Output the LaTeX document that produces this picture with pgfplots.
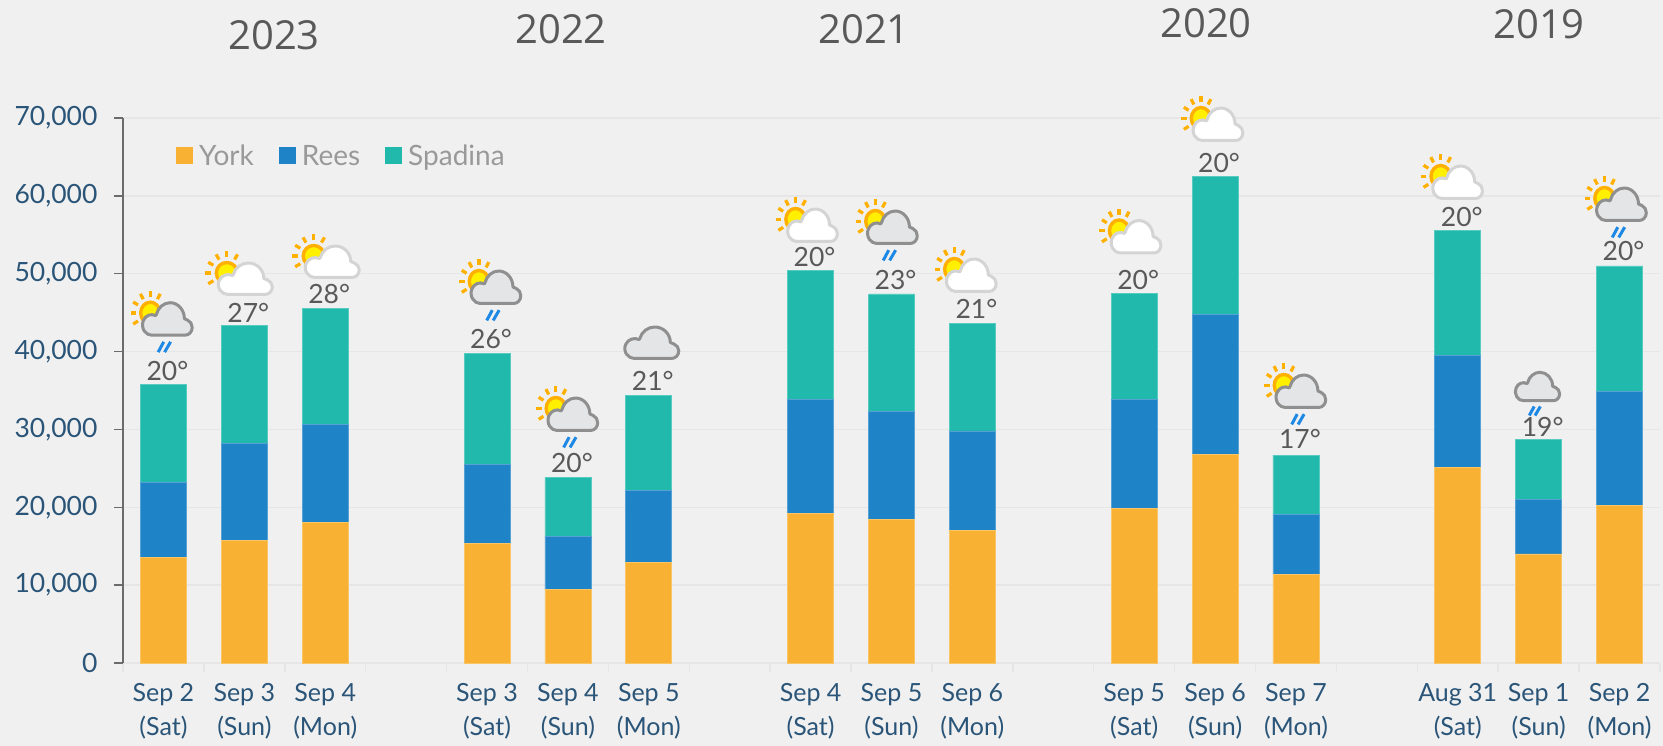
\documentclass[border=0pt]{standalone}
\usepackage{pgfplots}
\usepackage{pgfplotstable}
\pgfplotsset{compat=1.18}
\usepackage{fontspec}
\setmainfont{Lato}
\newfontfamily\yearfont{Open Sans}
\definecolor{bg}{HTML}{F0F0F0}
\definecolor{york}{HTML}{F8B133}
\definecolor{rees}{HTML}{1F83C7}
\definecolor{spadina}{HTML}{20B9AB}
\definecolor{ticktext}{HTML}{2A5578}
\definecolor{gridc}{HTML}{E6E6E6}
\definecolor{labc}{HTML}{595959}
\definecolor{sunring}{HTML}{FFB000}
\definecolor{sunfill}{HTML}{FFF000}
\definecolor{cloudw}{HTML}{D4D4D4}
\definecolor{cloudg}{HTML}{8F8F8F}
\definecolor{cloudgf}{HTML}{E4E5E7}
\definecolor{rainc}{HTML}{1E88E5}
\pgfplotstableread{
x    York  Rees  Spadina
0.5  13600 9600  12600
1.5  15700 12500 15200
2.5  18100 12500 14900
4.5  15400 10100 14300
5.5  9500  6700  7600
6.5  12900 9300  12200
8.5  19200 14700 16500
9.5  18400 13900 15100
10.5 17000 12800 13800
12.5 19900 13900 13700
13.5 26800 18000 17700
14.5 11400 7700  7600
16.5 25100 14400 16000
17.5 14000 7000  7700
18.5 20200 14700 16100
}\gatedata
\tikzset{
 wide/.style={x=1pt,y=1pt},
 narrow/.style={x=0.92pt,y=1.03pt},
 small/.style={x=0.82pt,y=0.9pt},
 sun/.pic={
  \foreach \a in {90,60,120,150,180,210}{\draw[line width=3.2pt,draw=sunring] (-17.5,23)++(\a:15.5) -- ++(\a:6);}
  \draw[line width=3.4pt,draw=sunring,fill=sunfill] (-7,23) arc[start angle=0,end angle=360,radius=10.5] -- cycle;
 },
 cw/.pic={
  \draw[line width=3pt,draw=cloudw,fill=white,line join=round]
   (-16,1.5) -- (20.5,1.5) arc[start angle=-90,end angle=70,radius=7.5] -- (19.5,17.5) arc[start angle=0,end angle=165,radius=15.5] -- (-11.8,20.5) arc[start angle=65,end angle=270,radius=10] -- cycle;
 },
 cg/.pic={
  \draw[line width=3pt,draw=cloudg,fill=cloudgf,line join=round]
   (-16,1.5) -- (20.5,1.5) arc[start angle=-90,end angle=70,radius=7.5] -- (19.5,17.5) arc[start angle=0,end angle=165,radius=15.5] -- (-11.8,20.5) arc[start angle=65,end angle=270,radius=10] -- cycle;
 },
 rain/.pic={
  \draw[line width=3pt,draw=rainc] (-9,-15) -- (-3,-5) (-2,-15) -- (4.5,-5);
 },
}
% x, y(value), xshift, size style
\newcommand\iconA[4]{\path (axis cs:#1,#2) ++(#3pt,0pt) pic[#4] {sun} pic[#4] {cw};}
\newcommand\iconB[4]{\path (axis cs:#1,#2) ++(#3pt,0pt) pic[#4] {sun} pic[#4] {cg} pic[#4] {rain};}
\newcommand\iconC[4]{\path (axis cs:#1,#2) ++(#3pt,0pt) pic[#4] {cg};}
\newcommand\iconD[4]{\path (axis cs:#1,#2) ++(#3pt,0pt) pic[#4] {cg} pic[#4] {rain};}
% x, total, text, gap
\newcommand\temp[4]{\node[anchor=base,inner sep=0pt,text=labc,font=\fontsize{26.5}{30}\selectfont] at (axis cs:#1,#2) [xshift=4pt,yshift=#4pt] {#3°};}
\begin{document}
\begin{tikzpicture}[x=1pt,y=1pt]
\fill[bg] (0,0) rectangle (1663,746);
\path[use as bounding box] (0,0) rectangle (1663,746);
\begin{axis}[
 at={(123pt,83pt)},anchor=south west,
 scale only axis,width=1537pt,height=545pt,
 ybar stacked,bar width=46pt,
 legend image code/.code={\path[#1,draw=none] (0pt,-8.5pt) rectangle (17pt,8.5pt);},
 xmin=0,xmax=19,ymin=0,ymax=70000,clip=false,
 axis x line*=bottom,axis y line*=left,
 x axis line style={-,draw=gridc,line width=1.5pt},
 y axis line style={-,draw=black!58,line width=1.6pt},
 ymajorgrids,grid style={draw=gridc,line width=1.5pt},
 ytick={0,10000,...,70000},
 scaled y ticks=false,
 ytick style={draw=black!58,line width=1.4pt},
 major tick length=9pt,minor tick length=9pt,
 tick align=outside,
 /pgf/number format/1000 sep={,},
 /pgf/number format/assume math mode=true,
 yticklabel style={text=ticktext,font=\fontsize{26.5}{30}\selectfont,xshift=-13pt},
 xtick={0.5,1.5,2.5,4.5,5.5,6.5,8.5,9.5,10.5,12.5,13.5,14.5,16.5,17.5,18.5},
 xticklabels={{Sep 2\\(Sat)},{Sep 3\\(Sun)},{Sep 4\\(Mon)},{Sep 3\\(Sat)},{Sep 4\\(Sun)},{Sep 5\\(Mon)},{Sep 4\\(Sat)},{Sep 5\\(Sun)},{Sep 6\\(Mon)},{Sep 5\\(Sat)},{Sep 6\\(Sun)},{Sep 7\\(Mon)},{Aug 31\\(Sat)},{Sep 1\\(Sun)},{Sep 2\\(Mon)}},
 xticklabel style={align=center,text=ticktext,font=\fontsize{25}{34}\selectfont,yshift=-8pt},
 x tick style={draw=none},
 minor xtick={0,1,...,19},
 minor x tick style={draw=gridc,line width=1.5pt},
 legend style={anchor=west,at={(53pt,507pt)},draw=none,fill=none,legend columns=3,
   font=\fontsize{28}{30}\selectfont,text=black!40,inner sep=0pt,
   /tikz/every even column/.style={column sep=0pt}},
 legend cell align=left,
]
\addplot[fill=york,draw=york!75!white,line width=0.8pt] table[x=x,y=York] {\gatedata};
\addplot[fill=rees,draw=rees!75!white,line width=0.8pt] table[x=x,y=Rees] {\gatedata};
\addplot[fill=spadina,draw=spadina!75!white,line width=0.8pt] table[x=x,y=Spadina] {\gatedata};
\legend{\hspace*{4pt}York\hspace*{23pt},\hspace*{4pt}Rees\hspace*{23pt},\hspace*{4pt}Spadina}
\temp{0.5}{35800}{20}{4}\temp{1.5}{43400}{27}{3}\temp{2.5}{45500}{28}{5}
\temp{4.5}{39800}{26}{5}\temp{5.5}{23800}{20}{5}\temp{6.5}{34400}{21}{5}
\temp{8.5}{50400}{20}{4}\temp{9.5}{47400}{23}{4}\temp{10.5}{43600}{21}{5}
\temp{12.5}{47500}{20}{4}\temp{13.5}{62500}{20}{4}\temp{14.5}{26700}{17}{7}
\temp{16.5}{55500}{20}{4}\temp{17.5}{28700}{19}{3}\temp{18.5}{51000}{20}{5}
\iconB{0.5}{41910}{3}{narrow}\iconA{1.5}{47137}{0}{wide}\iconA{2.5}{49321}{6}{wide}
\iconB{4.5}{45981}{8}{narrow}\iconB{5.5}{29670}{4}{narrow}\iconC{6.5}{38917}{2}{wide}
\iconA{8.5}{53945}{1}{narrow}\iconB{9.5}{53688}{0}{narrow}\iconA{10.5}{47523}{-2}{narrow}
\iconA{12.5}{52468}{1}{narrow}\iconA{13.5}{66917}{2}{narrow}\iconB{14.5}{32624}{4}{narrow}
\iconA{16.5}{59468}{-1}{narrow}\iconD{17.5}{33523}{-2}{small}\iconB{18.5}{56642}{1}{narrow}
\end{axis}
\foreach \t/\xx/\yy in {2023/274/711,2022/561/717,2021/864/717,2020/1206/723,2019/1539/722}{
 \node[text=labc,font=\yearfont\fontsize{40}{46}\selectfont,inner sep=0pt] at (\xx,\yy) {\t};
}
\end{tikzpicture}
\end{document}
